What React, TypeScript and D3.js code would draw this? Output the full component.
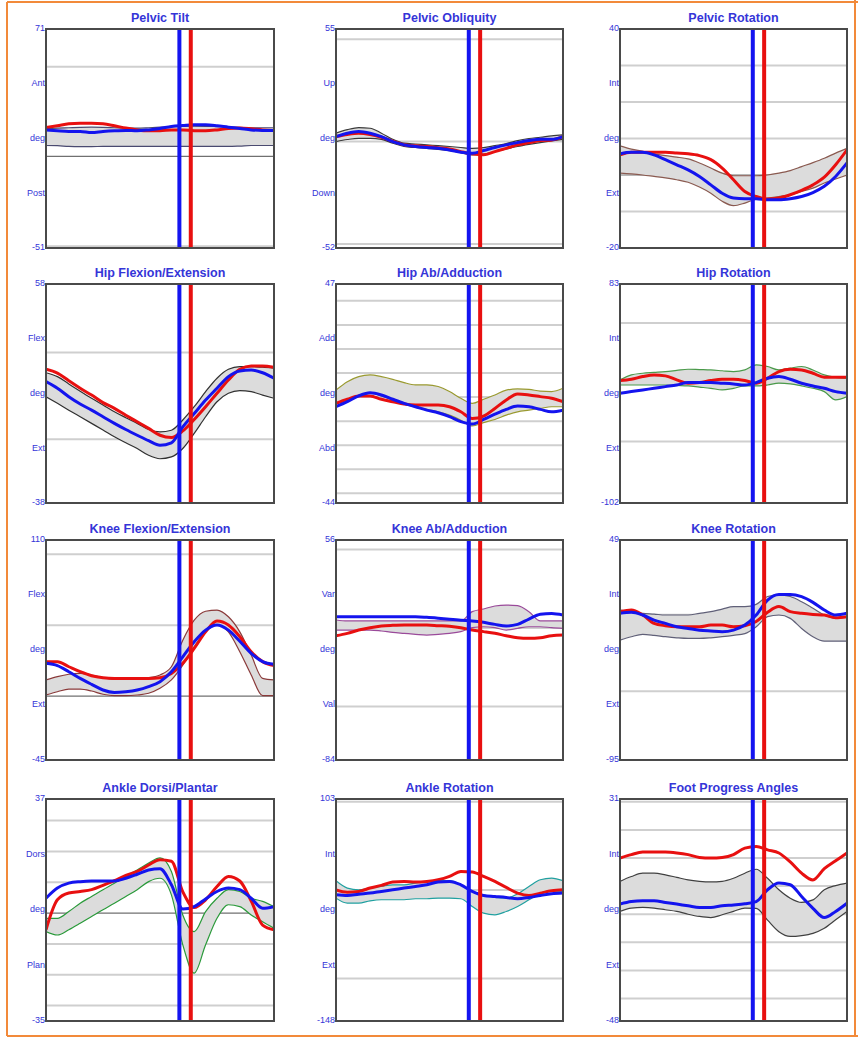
import React from "react";
import * as d3 from "d3";

// % of gait cycle
const gaitCycle = [0, 5, 10, 15, 20, 25, 30, 35, 40, 45, 50, 55, 60, 65, 70, 75, 80, 85, 90, 95, 100];
const toeOffLeft = 58.5;
const toeOffRight = 63.5;

const titles = [
  "Pelvic Tilt", "Pelvic Obliquity", "Pelvic Rotation",
  "Hip Flexion/Extension", "Hip Ab/Adduction", "Hip Rotation",
  "Knee Flexion/Extension", "Knee Ab/Adduction", "Knee Rotation",
  "Ankle Dorsi/Plantar", "Ankle Rotation", "Foot Progress Angles",
];
const yMax = [71, 55, 40, 58, 47, 83, 110, 56, 49, 37, 103, 31];
const yMin = [-51, -52, -20, -38, -44, -102, -45, -84, -95, -35, -148, -48];
const yWords = [
  ["Ant", "Post"], ["Up", "Down"], ["Int", "Ext"],
  ["Flex", "Ext"], ["Add", "Abd"], ["Int", "Ext"],
  ["Flex", "Ext"], ["Var", "Val"], ["Int", "Ext"],
  ["Dors", "Plan"], ["Int", "Ext"], ["Int", "Ext"],
];
const gridValues = [
  [50, 0, -50], [50, 0, -50], [30, 20, 10, 0, -10],
  [28, -10], [40, 30, 20, 10, 0, -10, -20, -30, -40], [50, 0, -50],
  [100, 50, 0], [50, 0, -50], [0, -50],
  [30, 20, 10, 0, -10, -20, -30], [100, 0, -100], [30, 20, 10, 0, -10, -20, -30, -40],
];

// right side (red), left side (blue), normal band low / high
const pelvicTiltRight = [16.1, 17.1, 18.2, 18.5, 18.5, 18.2, 17.1, 15.8, 14.8, 14.3, 14.3, 14.8, 14.8, 14.3, 14.3, 14.8, 15.6, 15.8, 15.4, 14.8, 14.5];
const pelvicTiltLeft = [14.8, 14.3, 13.9, 13.9, 13.3, 13.9, 14.3, 14.5, 14.3, 14.8, 15.6, 16.7, 17.2, 17.6, 17.6, 17.1, 16.3, 15.6, 14.8, 14.5, 14.5];
const pelvicTiltNormLo = [6.1, 6.0, 5.6, 5.5, 5.5, 5.6, 5.6, 5.6, 5.6, 5.6, 5.6, 5.6, 5.6, 5.6, 5.6, 5.6, 5.6, 5.8, 6.1, 6.1, 6.1];
const pelvicTiltNormHi = [15.5, 15.8, 16.0, 16.2, 16.3, 16.2, 16.0, 15.8, 15.8, 16.0, 16.3, 16.6, 16.8, 16.9, 16.8, 16.6, 16.4, 16.2, 16.0, 16.0, 16.0];

const pelvicOblRight = [2.4, 3.5, 4.1, 3.5, 2.1, 0.2, -1.6, -2.1, -2.4, -3.0, -3.6, -4.9, -6.0, -6.5, -4.9, -3.3, -1.6, -0.5, 0.5, 0.8, 2.4];
const pelvicOblLeft = [2.4, 4.1, 4.9, 4.1, 2.4, 0, -1.6, -2.4, -2.9, -3.3, -4.1, -5.2, -5.7, -4.4, -2.9, -1.6, -0.5, 0.5, 1.1, 1.1, 2.4];
const pelvicOblNormLo = [0, 1.0, 1.6, 1.6, 1.1, -0.8, -2.4, -2.9, -3.3, -3.8, -4.4, -5.4, -6.5, -6.2, -4.9, -3.6, -2.4, -1.4, -0.5, 0.3, 1.1];
const pelvicOblNormHi = [4.1, 5.8, 6.8, 6.5, 4.1, 1.1, -0.8, -1.2, -1.6, -2.0, -2.4, -2.9, -3.3, -3.0, -2.0, -1.0, 0.5, 1.5, 2.1, 2.8, 3.3];

const pelvicRotRight = [5.5, 6.2, 6.2, 6.2, 6.2, 6.0, 5.8, 5.3, 4.2, 1.9, -1.3, -4.5, -5.9, -6.6, -6.3, -5.4, -4.2, -2.7, -0.6, 2.8, 6.9];
const pelvicRotLeft = [5.8, 6.2, 6.2, 5.5, 4.2, 2.8, 1.4, -0.4, -2.7, -5.0, -6.3, -6.5, -6.5, -6.8, -6.8, -6.5, -5.9, -4.8, -3.1, -0.4, 3.3];
const pelvicRotNormLo = [0.5, 0.3, 0, -0.4, -0.8, -1.3, -2.0, -3.3, -5.0, -7.2, -8.4, -7.7, -6.6, -6.3, -5.9, -5.4, -4.5, -3.6, -2.2, -1.1, 0];
const pelvicRotNormHi = [8.0, 7.1, 6.5, 5.8, 5.3, 4.9, 4.4, 3.3, 1.9, 0.5, -0.2, -0.2, -0.2, 0, 0.5, 1.2, 2.3, 3.4, 4.6, 6.0, 7.3];

const hipFlexRight = [20.6, 18.9, 15.6, 12.3, 9.3, 6.0, 3.5, 0.5, -2.4, -5.3, -8.3, -9.3, -6.4, -1.4, 4.2, 10.1, 15.9, 20.6, 22.1, 22.1, 21.5];
const hipFlexLeft = [15.2, 12.3, 8.6, 5.4, 2.7, -0.2, -3.1, -5.8, -8.3, -10.7, -12.7, -11.6, -4.6, 1.2, 7.1, 12.3, 17.4, 19.9, 20.3, 19.1, 16.7];
const hipFlexNormLo = [8.6, 5.7, 2.7, -0.2, -3.1, -6.0, -9.0, -11.6, -14.1, -17.1, -18.6, -17.8, -14.1, -7.5, -0.2, 6.4, 10.1, 11.3, 10.8, 9.3, 7.9];
const hipFlexNormHi = [19.1, 17.4, 14.2, 11.0, 7.9, 5.0, 2.0, -0.6, -3.1, -5.8, -6.8, -6.1, -1.6, 4.2, 10.8, 16.7, 20.6, 21.8, 21.8, 21.5, 21.1];

const hipAbRight = [-2.6, -0.9, 0.5, 0.5, -0.9, -1.9, -2.9, -3.3, -3.3, -3.3, -4.0, -6.1, -8.9, -7.9, -4.7, -1.2, 1.3, 0.9, 0.2, -0.5, -1.9];
const hipAbLeft = [-4.0, -1.9, 0.5, 1.8, 0.9, -0.9, -2.6, -4.0, -5.4, -6.5, -8.1, -10.2, -11.2, -9.3, -7.1, -5.1, -3.7, -4.0, -5.1, -6.1, -5.4];
const hipAbNormLo = [-2.6, -0.9, 0.5, 1.6, 0.5, -1.2, -2.9, -4.0, -5.1, -6.1, -7.5, -9.6, -12.0, -10.6, -9.3, -7.5, -6.1, -5.4, -4.7, -4.0, -4.0];
const hipAbNormHi = [2.9, 6.4, 8.5, 9.2, 8.5, 7.4, 6.0, 5.1, 5.1, 4.4, 2.3, -0.5, -2.6, -0.9, 0.9, 2.9, 3.4, 3.2, 2.5, 2.3, 3.7];

const hipRotRight = [1.4, 2.5, 4.8, 6.2, 5.4, 2.0, -0.8, -0.3, 1.4, 2.5, 2.5, 1.4, -0.8, 3.4, 9.0, 11.0, 10.4, 7.6, 4.2, 4.2, 4.2];
const hipRotLeft = [-9.3, -7.9, -6.5, -5.1, -3.7, -2.3, -0.3, -0.3, -0.3, -0.8, -1.4, -2.3, -0.3, 3.4, 4.8, 2.5, -0.8, -3.1, -5.1, -7.9, -9.3];
const hipRotNormLo = [-2.3, -2.3, -2.3, -2.3, -2.3, -2.7, -3.1, -4.1, -5.1, -6.5, -5.1, -3.1, -3.1, -2.3, -0.8, -1.4, -3.1, -5.1, -7.9, -14.9, -12.1];
const hipRotNormHi = [2.0, 6.2, 7.6, 8.3, 9.0, 10.0, 11.0, 10.7, 10.4, 9.7, 9.0, 10.4, 14.7, 13.3, 10.4, 11.9, 13.3, 10.4, 6.2, 4.2, 3.4];

const kneeFlexRight = [24.3, 24.3, 20.7, 17.2, 14.4, 13.0, 12.5, 12.5, 12.5, 12.5, 13.0, 16.0, 23.1, 33.6, 45.3, 52.9, 50.1, 41.9, 31.3, 24.3, 21.5];
const kneeFlexLeft = [23.1, 21.5, 17.2, 12.5, 8.3, 4.3, 2.6, 3.1, 4.3, 6.7, 10.2, 17.2, 27.7, 38.3, 46.5, 50.1, 46.5, 38.7, 30.1, 24.3, 22.4];
const kneeFlexNormLo = [0.8, 3.1, 5.0, 5.0, 3.6, 1.3, 0.3, 0.3, 0.8, 2.0, 5.5, 11.4, 21.8, 34.8, 45.3, 50.1, 45.3, 31.3, 14.9, 0.3, 0.3];
const kneeFlexNormHi = [11.4, 13.7, 15.4, 16.1, 14.9, 13.0, 12.0, 12.0, 12.5, 13.0, 14.9, 20.7, 39.4, 53.5, 59.8, 60.6, 55.9, 45.3, 28.9, 12.5, 11.4];

const kneeAbRight = [-4.9, -3.4, -1.3, 0.2, 1.3, 1.7, 1.9, 1.9, 1.9, 1.5, 1.1, 0.2, -1.3, -2.3, -3.4, -4.9, -6.2, -6.6, -6.2, -4.9, -4.5];
const kneeAbLeft = [7.2, 7.2, 7.2, 7.2, 7.2, 7.2, 7.2, 7.2, 6.8, 6.2, 5.5, 4.9, 4.5, 3.6, 2.3, 1.3, 2.3, 5.7, 8.7, 9.3, 8.3];
const kneeAbNormLo = [-1.3, -1.3, -1.3, -1.3, -1.9, -2.8, -3.4, -4.0, -4.5, -4.0, -3.4, -2.3, 0.2, 0.8, 0.2, -1.3, -0.2, 0.8, 0.8, 0.2, -0.2];
const kneeAbNormHi = [5.1, 4.5, 4.5, 4.5, 4.5, 4.5, 4.5, 4.5, 4.5, 4.5, 4.5, 4.5, 10.4, 12.1, 14.0, 14.6, 14.2, 10.4, 4.5, 4.5, 4.5];

const kneeRotRight = [2.1, 3.2, -0.1, -5.6, -7.1, -7.8, -7.8, -7.8, -6.7, -6.7, -7.8, -7.1, -4.4, 1.7, 5.4, 2.1, 1.0, 0.3, -0.1, -1.9, -1.2];
const kneeRotLeft = [1.0, 1.7, -0.1, -3.4, -5.6, -7.8, -8.9, -10.0, -10.6, -11.1, -10.0, -6.7, -0.1, 9.7, 13.4, 13.4, 11.9, 8.2, 3.2, -0.1, 1.0];
const kneeRotNormLo = [-16.5, -14.3, -12.8, -13.4, -14.3, -15.0, -15.4, -15.4, -15.0, -14.3, -13.4, -12.3, -7.8, -1.2, -0.1, -2.3, -8.9, -14.3, -17.2, -17.2, -17.2];
const kneeRotNormHi = [3.2, 2.1, 1.0, 0.5, -0.1, -0.1, -0.1, 1.0, 2.1, 3.8, 5.4, 5.4, 6.9, 12.0, 13.1, 12.0, 8.6, 4.3, -0.1, -2.3, -1.2];

const ankleDfRight = [-5.4, 4.3, 6.5, 7.0, 7.6, 9.0, 10.5, 12.2, 13.5, 15.6, 17.3, 16.8, 6.9, 1.8, 4.3, 8.6, 11.9, 10.4, 3.9, -3.9, -5.4];
const ankleDfLeft = [4.8, 8.1, 9.7, 10.2, 10.4, 10.4, 10.4, 11.3, 12.6, 14.0, 14.4, 9.2, 1.3, 2.1, 4.6, 7.0, 8.1, 7.6, 4.8, 1.6, 2.1];
const ankleDfNormLo = [-6.0, -7.1, -5.4, -3.3, -1.1, 1.1, 3.2, 5.4, 7.6, 10.2, 11.3, 5.9, -10.3, -19.5, -10.3, -1.7, 2.7, 2.1, -0.6, -2.8, -4.9];
const ankleDfNormHi = [-1.7, -1.7, 0.5, 3.2, 5.4, 7.6, 9.7, 11.9, 14.0, 16.2, 17.9, 13.5, -0.6, -6.0, 0.5, 4.8, 7.6, 7.0, 4.8, 3.8, 2.1];

const ankleRotRight = [0.3, -2.3, -1.5, 2.3, 5.3, 9.1, 9.8, 9.1, 9.8, 11.7, 15.5, 21.1, 20.4, 15.5, 9.8, 3.0, -3.4, -6.1, -3.4, -0.8, 0.3];
const ankleRotLeft = [-5.3, -6.1, -4.6, -3.4, -1.5, 0.3, 2.3, 4.1, 6.0, 9.1, 9.8, 6.0, -1.5, -6.1, -7.2, -8.3, -9.8, -8.3, -6.1, -4.2, -3.4];
const ankleRotNormLo = [-9.1, -14.7, -14.7, -12.1, -10.9, -10.9, -10.9, -9.8, -9.8, -9.1, -9.1, -9.8, -18.5, -26.0, -27.9, -24.2, -18.5, -10.9, -3.4, -0.8, -1.5];
const ankleRotNormHi = [10.6, 2.3, 0.3, 2.3, 4.1, 6.0, 6.0, 7.9, 9.1, 10.6, 10.6, 6.0, -1.5, -5.3, -8.3, -9.1, -4.2, 4.1, 11.7, 13.6, 10.6];

const footProgRight = [10.0, 11.2, 12.1, 12.1, 12.1, 11.8, 11.2, 10.2, 10.0, 10.2, 11.2, 13.5, 14.1, 12.9, 11.8, 8.6, 4.6, 2.2, 6.2, 9.0, 11.8];
const footProgLeft = [-6.4, -5.5, -5.2, -5.2, -5.8, -6.4, -7.0, -7.6, -7.6, -7.0, -6.7, -6.3, -5.5, -1.3, 1.1, 0.5, -3.7, -7.9, -11.2, -9.0, -6.1];
const footProgNormLo = [-9.0, -7.8, -7.6, -7.8, -8.4, -9.0, -10.0, -10.8, -11.2, -10.2, -9.0, -7.8, -7.9, -12.1, -16.2, -17.9, -17.6, -16.8, -15.0, -12.0, -9.0];
const footProgNormHi = [1.7, 3.4, 4.6, 4.6, 4.0, 3.1, 2.2, 1.7, 1.5, 1.7, 2.8, 4.6, 6.0, 2.8, -1.3, -4.3, -5.8, -4.9, -1.3, 0.2, 1.1];

const rightSeries = [pelvicTiltRight, pelvicOblRight, pelvicRotRight, hipFlexRight, hipAbRight, hipRotRight, kneeFlexRight, kneeAbRight, kneeRotRight, ankleDfRight, ankleRotRight, footProgRight];
const leftSeries = [pelvicTiltLeft, pelvicOblLeft, pelvicRotLeft, hipFlexLeft, hipAbLeft, hipRotLeft, kneeFlexLeft, kneeAbLeft, kneeRotLeft, ankleDfLeft, ankleRotLeft, footProgLeft];
const normLoSeries = [pelvicTiltNormLo, pelvicOblNormLo, pelvicRotNormLo, hipFlexNormLo, hipAbNormLo, hipRotNormLo, kneeFlexNormLo, kneeAbNormLo, kneeRotNormLo, ankleDfNormLo, ankleRotNormLo, footProgNormLo];
const normHiSeries = [pelvicTiltNormHi, pelvicOblNormHi, pelvicRotNormHi, hipFlexNormHi, hipAbNormHi, hipRotNormHi, kneeFlexNormHi, kneeAbNormHi, kneeRotNormHi, ankleDfNormHi, ankleRotNormHi, footProgNormHi];

// styles / layout
const bandColors = ["#4a4a70", "#3a3a3a", "#8a5a50", "#303030", "#9a9a30", "#4a9a4a", "#8a3a3a", "#9a4a9a", "#606078", "#2a9a3a", "#20a0a0", "#404040"];
const darkZero = [true, false, true, false, false, false, true, false, false, true, false, false];
const colX = [46, 336, 620];
const colW = [228, 227, 227];
const rowY = [29, 284, 540, 799];
const rowH = [219, 219, 220, 222];
const labelColor = "#3535d8";

function Panel({ i }: { i: number }) {
  const left = colX[i % 3];
  const w = colW[i % 3];
  const top = rowY[Math.floor(i / 3)];
  const h = rowH[Math.floor(i / 3)];

  const x = d3.scaleLinear().domain([0, 100]).range([left, left + w]);
  const y = d3.scaleLinear().domain([yMin[i], yMax[i]]).range([top + h, top]);

  const line = d3
    .line<number>()
    .x((d, k) => x(gaitCycle[k]))
    .y(d => y(d))
    .curve(d3.curveMonotoneX);
  const area = d3
    .area<number>()
    .x((d, k) => x(gaitCycle[k]))
    .y0((d, k) => y(normLoSeries[i][k]))
    .y1((d, k) => y(normHiSeries[i][k]))
    .curve(d3.curveMonotoneX);

  const clipId = "clip" + i;
  const yl = d3.scaleLinear().domain([0, 1]).range([top, top + h]);

  return (
    <g>
      <defs>
        <clipPath id={clipId}>
          <rect x={left} y={top} width={w} height={h} />
        </clipPath>
      </defs>
      <text x={left + w / 2} y={top - 7.5} textAnchor="middle" fontSize={12.5} fontWeight="bold"
        fill={labelColor} fontFamily="Liberation Sans, Arial, sans-serif">{titles[i]}</text>
      <g clipPath={`url(#${clipId})`}>
        {gridValues[i].map(v => (
          <line key={v} x1={left} x2={left + w} y1={y(v)} y2={y(v)}
            stroke={v === 0 && darkZero[i] ? "#707070" : "#cfcfcf"}
            strokeWidth={v === 0 && darkZero[i] ? 1.2 : 2} />
        ))}
        <path d={area(normLoSeries[i]) || ""} fill="#dcdcdc" />
        <path d={line(normLoSeries[i]) || ""} fill="none" stroke={bandColors[i]} strokeWidth={1.2} />
        <path d={line(normHiSeries[i]) || ""} fill="none" stroke={bandColors[i]} strokeWidth={1.2} />
        <path d={line(rightSeries[i]) || ""} fill="none" stroke="#e81010" strokeWidth={3} />
        <path d={line(leftSeries[i]) || ""} fill="none" stroke="#1414ee" strokeWidth={3} />
        <line x1={x(toeOffLeft)} x2={x(toeOffLeft)} y1={top} y2={top + h} stroke="#1414f0" strokeWidth={4} />
        <line x1={x(toeOffRight)} x2={x(toeOffRight)} y1={top} y2={top + h} stroke="#e81010" strokeWidth={4} />
      </g>
      <rect x={left} y={top} width={w} height={h} fill="none" stroke="#4a4a4a" strokeWidth={2} />
      <g fontSize={9} fill={labelColor} fontFamily="Liberation Sans, Arial, sans-serif" textAnchor="end">
        <text x={left - 1} y={top} dominantBaseline="middle">{yMax[i]}</text>
        <text x={left - 1} y={yl(0.25)} dominantBaseline="middle">{yWords[i][0]}</text>
        <text x={left - 1} y={yl(0.5)} dominantBaseline="middle">deg</text>
        <text x={left - 1} y={yl(0.75)} dominantBaseline="middle">{yWords[i][1]}</text>
        <text x={left - 1} y={top + h} dominantBaseline="middle">{yMin[i]}</text>
      </g>
    </g>
  );
}

export default function App() {
  return (
    <svg width={858} height={1038} style={{ position: "absolute", left: 0, top: 0, background: "#fff" }}>
      <rect x={0} y={0} width={858} height={1038} fill="#fff" />
      <line x1={7} x2={858} y1={2} y2={2} stroke="#f28a3a" strokeWidth={2} />
      <line x1={7} x2={7} y1={2} y2={1036} stroke="#f28a3a" strokeWidth={2} />
      <line x1={7} x2={858} y1={1036} y2={1036} stroke="#f28a3a" strokeWidth={2} />
      <line x1={855} x2={855} y1={0} y2={1036} stroke="#f28a3a" strokeWidth={2} />
      {titles.map((t, i) => (
        <Panel key={t} i={i} />
      ))}
    </svg>
  );
}
